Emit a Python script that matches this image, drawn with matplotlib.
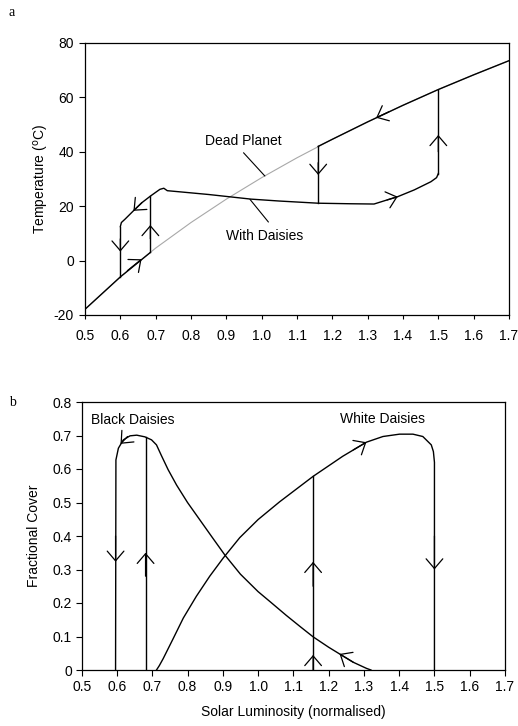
import matplotlib
matplotlib.use("Agg")
import matplotlib.pyplot as plt

plt.rcParams['font.family'] = ['Liberation Sans', 'DejaVu Sans']
plt.rcParams['font.size'] = 10
plt.rcParams['axes.unicode_minus'] = False

# ----------------------
# panel a : temperature
# ----------------------
dead_L = [0.5, 0.6, 0.7, 0.8, 0.9, 1.0, 1.1, 1.2, 1.3, 1.4, 1.5, 1.6, 1.7]
dead_T = [-17.9, -6.0, 4.6, 14.0, 22.6, 30.5, 37.8, 44.6, 51.0, 57.1, 62.9, 68.3, 73.5]

# bare planet parts that the daisy run follows
cold_L = [0.5, 0.6, 0.685]
cold_T = [-17.9, -6.0, 3.0]
hot_L = [1.16, 1.2, 1.3, 1.4, 1.5, 1.6, 1.7]
hot_T = [42.0, 44.6, 51.0, 57.1, 62.9, 68.3, 73.5]

daisy_L = [0.6, 0.603, 0.613, 0.637, 0.661, 0.686, 0.712, 0.723, 0.733, 0.767,
           0.85, 0.97, 1.05, 1.16, 1.25, 1.318, 1.355, 1.385, 1.432, 1.479,
           1.495, 1.5]
daisy_T = [12.5, 14.0, 15.2, 18.3, 21.3, 23.8, 26.2, 26.6, 25.7, 25.3,
           24.3, 22.6, 21.9, 21.1, 20.9, 20.8, 22.3, 23.5, 26.0, 29.0,
           30.5, 32.0]

# jumps: (L, from T, to T)
jumps_a = [(0.6, -6.0, 12.5), (0.685, 3.0, 23.8), (1.16, 21.1, 42.0), (1.5, 32.0, 62.9)]

# direction marks: (tip, tail)
arrows_a = [((0.6, 3.3), (0.6, 8.0)),
            ((0.685, 13.1), (0.685, 8.0)),
            ((0.637, 18.3), (0.661, 21.3)),
            ((0.66, 0.5), (0.62, -3.7)),
            ((1.324, 52.5), (1.36, 54.7)),
            ((1.5, 46.2), (1.5, 40.0)),
            ((1.385, 23.5), (1.355, 22.3)),
            ((1.16, 31.5), (1.16, 36.0))]

# ----------------------
# panel b : fractional cover
# ----------------------
black_L = [0.596, 0.597, 0.604, 0.618, 0.637, 0.656, 0.679, 0.698, 0.712, 0.726,
           0.745, 0.769, 0.80, 0.835, 0.87, 0.906, 0.95, 1.0, 1.034, 1.08,
           1.12, 1.156, 1.2, 1.231, 1.27, 1.307, 1.32]
black_C = [0.0, 0.627, 0.662, 0.687, 0.699, 0.701, 0.696, 0.687, 0.672, 0.640,
           0.598, 0.552, 0.500, 0.448, 0.396, 0.343, 0.286, 0.234, 0.204, 0.163,
           0.129, 0.099, 0.068, 0.048, 0.023, 0.005, 0.0]

white_L = [0.712, 0.72, 0.731, 0.759, 0.788, 0.825, 0.863, 0.901, 0.948, 1.0,
           1.061, 1.156, 1.24, 1.307, 1.354, 1.401, 1.439, 1.467, 1.491, 1.497,
           1.5, 1.5]
white_C = [0.0, 0.013, 0.034, 0.093, 0.155, 0.220, 0.280, 0.334, 0.395, 0.449,
           0.502, 0.578, 0.638, 0.680, 0.697, 0.704, 0.704, 0.697, 0.672, 0.652,
           0.62, 0.0]

jumps_b = [(0.681, 0.0, 0.695), (1.156, 0.0, 0.578)]

arrows_b = [((0.596, 0.323), (0.596, 0.40)),
            ((0.681, 0.35), (0.681, 0.28)),
            ((0.61, 0.675), (0.63, 0.697)),
            ((1.231, 0.048), (1.27, 0.023)),
            ((1.307, 0.680), (1.27, 0.657)),
            ((1.5, 0.30), (1.5, 0.40)),
            ((1.156, 0.323), (1.156, 0.25)),
            ((1.156, 0.045), (1.156, 0.0))]

x_ticks = [0.5, 0.6, 0.7, 0.8, 0.9, 1.0, 1.1, 1.2, 1.3, 1.4, 1.5, 1.6, 1.7]
x_labels = ['0.5', '0.6', '0.7', '0.8', '0.9', '1.0', '1.1', '1.2', '1.3', '1.4', '1.5', '1.6', '1.7']
t_ticks = [-20, 0, 20, 40, 60, 80]
c_ticks = [0, 0.1, 0.2, 0.3, 0.4, 0.5, 0.6, 0.7, 0.8]
c_labels = ['0', '0.1', '0.2', '0.3', '0.4', '0.5', '0.6', '0.7', '0.8']


def chevron(ax, tip, tail):
    ax.annotate('', xy=tip, xytext=tail,
                arrowprops=dict(arrowstyle='->,head_length=0.7,head_width=0.6',
                                lw=0.9, color='k', shrinkA=0, shrinkB=0))


fig = plt.figure(figsize=(5.18, 7.26), dpi=100)
ax1 = fig.add_axes([85/518, 1-315/726, 424/518, 272/726])
ax2 = fig.add_axes([81.7/518, 1-670/726, 423.3/518, 268/726])

lw = 1.0

# --- top ---
ax1.plot(dead_L, dead_T, color='#a8a8a8', lw=0.8)
ax1.plot(cold_L, cold_T, 'k-', lw=lw)
ax1.plot(hot_L, hot_T, 'k-', lw=lw)
ax1.plot(daisy_L, daisy_T, 'k-', lw=lw)
for L, t0, t1 in jumps_a:
    ax1.plot([L, L], [t0, t1], 'k-', lw=lw)
for tip, tail in arrows_a:
    chevron(ax1, tip, tail)

ax1.annotate('Dead Planet', xy=(1.009, 31.1), xytext=(0.947, 44.0),
             ha='center', va='center',
             arrowprops=dict(arrowstyle='-', lw=0.8, relpos=(0.45, 0.0),
                             shrinkA=2, shrinkB=0))
ax1.annotate('With Daisies', xy=(0.967, 22.5), xytext=(1.007, 9.0),
             ha='center', va='center',
             arrowprops=dict(arrowstyle='-', lw=0.8, relpos=(0.63, 1.0),
                             shrinkA=4, shrinkB=0))

ax1.set_xlim(0.5, 1.7)
ax1.set_ylim(-20, 80)
ax1.set_xticks(x_ticks)
ax1.set_xticklabels(x_labels)
ax1.set_yticks(t_ticks)
ax1.set_ylabel('Temperature ($^{\\rm o}$C)', labelpad=2)
ax1.tick_params(axis='x', direction='out', length=3, width=0.8, pad=7)
ax1.tick_params(axis='y', direction='out', length=4, width=0.8, pad=4)

# --- bottom ---
ax2.plot(black_L, black_C, 'k-', lw=lw)
ax2.plot(white_L, white_C, 'k-', lw=lw)
for L, c0, c1 in jumps_b:
    ax2.plot([L, L], [c0, c1], 'k-', lw=lw)
for tip, tail in arrows_b:
    chevron(ax2, tip, tail)

ax2.text(0.646, 0.746, 'Black Daisies', ha='center', va='center')
ax2.text(1.354, 0.748, 'White Daisies', ha='center', va='center')

ax2.set_xlim(0.5, 1.7)
ax2.set_ylim(0, 0.8)
ax2.set_xticks(x_ticks)
ax2.set_xticklabels(x_labels)
ax2.set_yticks(c_ticks)
ax2.set_yticklabels(c_labels)
ax2.set_xlabel('Solar Luminosity (normalised)', labelpad=8)
ax2.set_ylabel('Fractional Cover', labelpad=8)
ax2.tick_params(axis='x', direction='out', length=4, width=0.8, pad=3)
ax2.tick_params(axis='y', direction='out', length=4, width=0.8, pad=3)

for ax in (ax1, ax2):
    for s in ax.spines.values():
        s.set_linewidth(0.9)

fig.text(12/518, 1-13/726, 'a', family='Liberation Serif', fontsize=10, ha='center', va='center')
fig.text(12/518, 1-403/726, 'b', family='Liberation Serif', fontsize=10, ha='center', va='center')

fig.savefig('out.png', dpi=100)
